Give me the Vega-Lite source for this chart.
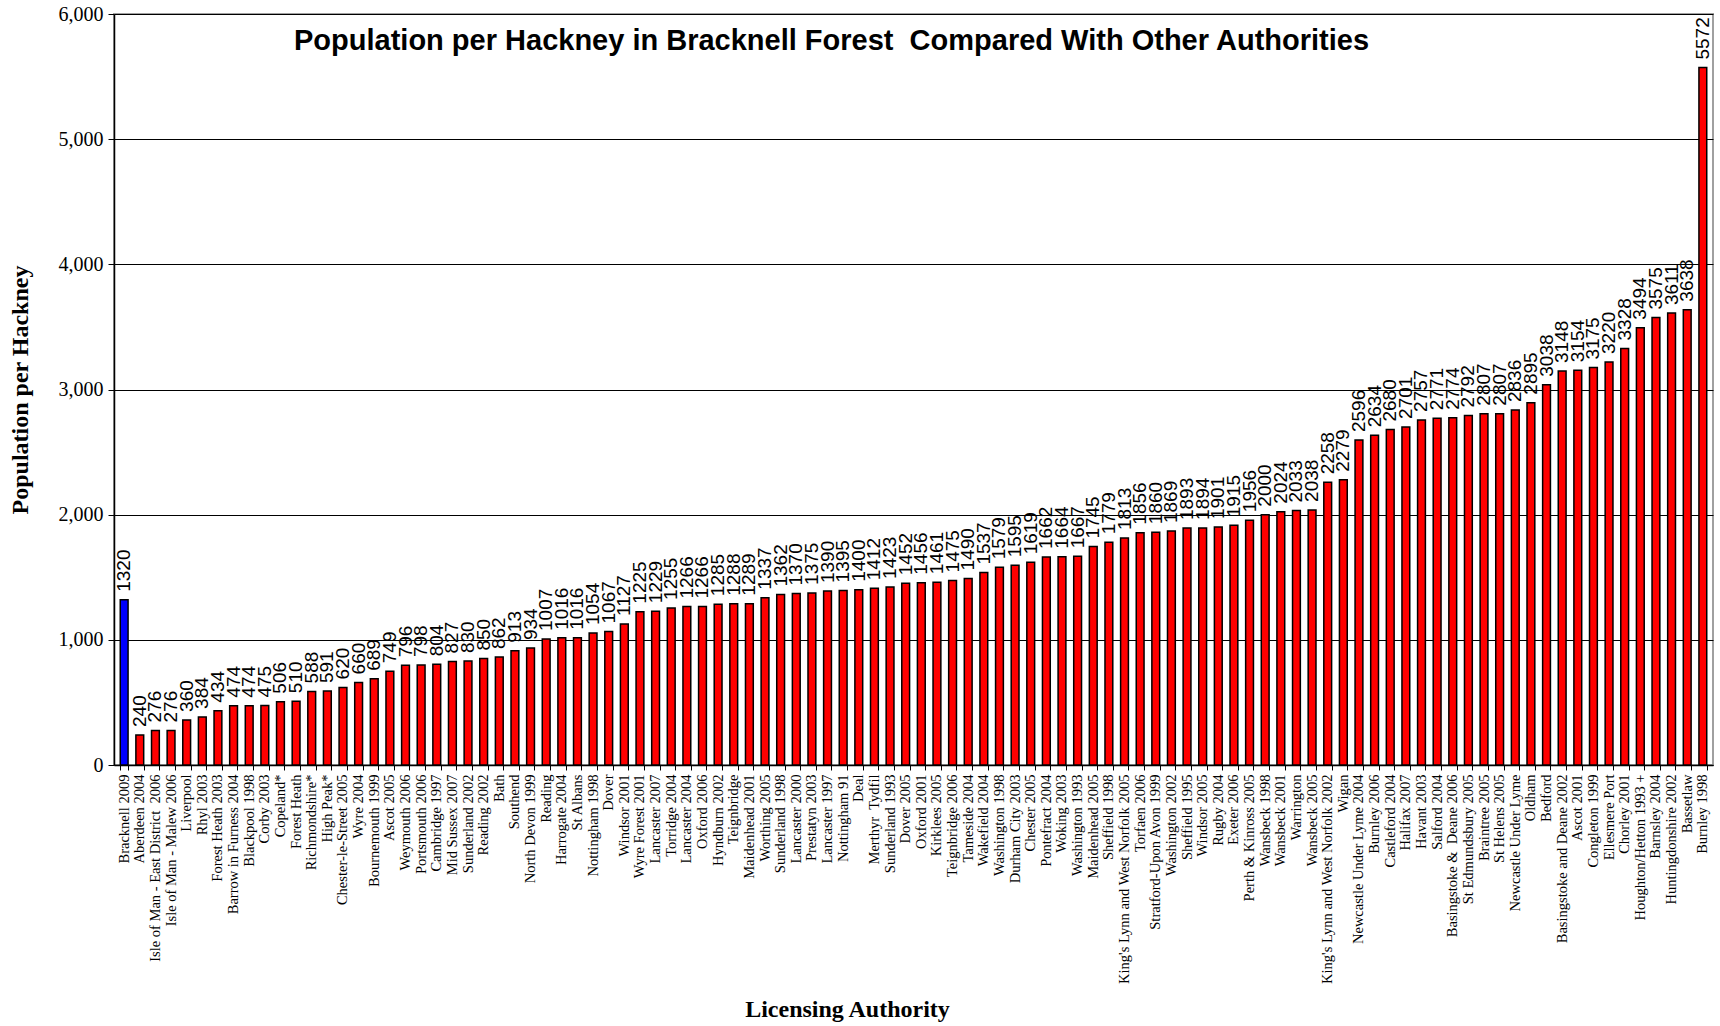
{
  "$schema": "https://vega.github.io/schema/vega-lite/v6.json",
  "autosize": "none",
  "width": 1599,
  "height": 751,
  "padding": {"left": 114, "top": 14, "right": 7, "bottom": 261},
  "background": "white",
  "config": {
    "view": {"stroke": "#a0a0a0", "strokeWidth": 2},
    "axis": {"domainColor": "black", "tickColor": "black", "labelColor": "black", "titleColor": "black"}
  },
  "title": {
    "text": "Population per Hackney in Bracknell Forest \u00a0Compared With Other Authorities",
    "font": "Liberation Sans",
    "fontSize": 29,
    "fontWeight": "bold",
    "color": "black",
    "anchor": "start",
    "frame": "group",
    "orient": "top",
    "baseline": "alphabetic",
    "offset": -40,
    "dx": 180,
    "dy": 35
  },
  "data": {
    "values": [
      {"authority": "Bracknell 2009", "pop": 1320, "group": "Bracknell"},
      {"authority": "Aberdeen 2004", "pop": 240, "group": "Other"},
      {"authority": "Isle of Man - East District \u00a02006", "pop": 276, "group": "Other"},
      {"authority": "Isle of Man - Malew 2006", "pop": 276, "group": "Other"},
      {"authority": "Liverpool", "pop": 360, "group": "Other"},
      {"authority": "Rhyl 2003", "pop": 384, "group": "Other"},
      {"authority": "Forest Heath 2003", "pop": 434, "group": "Other"},
      {"authority": "Barrow in Furness 2004", "pop": 474, "group": "Other"},
      {"authority": "Blackpool 1998", "pop": 474, "group": "Other"},
      {"authority": "Corby 2003", "pop": 475, "group": "Other"},
      {"authority": "Copeland*", "pop": 506, "group": "Other"},
      {"authority": "Forest Heath", "pop": 510, "group": "Other"},
      {"authority": "Richmondshire*", "pop": 588, "group": "Other"},
      {"authority": "High Peak*", "pop": 591, "group": "Other"},
      {"authority": "Chester-le-Street 2005", "pop": 620, "group": "Other"},
      {"authority": "Wyre 2004", "pop": 660, "group": "Other"},
      {"authority": "Bournemouth 1999", "pop": 689, "group": "Other"},
      {"authority": "Ascot 2005", "pop": 749, "group": "Other"},
      {"authority": "Weymouth 2006", "pop": 796, "group": "Other"},
      {"authority": "Portsmouth 2006", "pop": 798, "group": "Other"},
      {"authority": "Cambridge 1997", "pop": 804, "group": "Other"},
      {"authority": "Mid Sussex 2007", "pop": 827, "group": "Other"},
      {"authority": "Sunderland 2002", "pop": 830, "group": "Other"},
      {"authority": "Reading 2002", "pop": 850, "group": "Other"},
      {"authority": "Bath", "pop": 862, "group": "Other"},
      {"authority": "Southend", "pop": 913, "group": "Other"},
      {"authority": "North Devon 1999", "pop": 934, "group": "Other"},
      {"authority": "Reading", "pop": 1007, "group": "Other"},
      {"authority": "Harrogate 2004", "pop": 1016, "group": "Other"},
      {"authority": "St Albans", "pop": 1016, "group": "Other"},
      {"authority": "Nottingham 1998", "pop": 1054, "group": "Other"},
      {"authority": "Dover", "pop": 1067, "group": "Other"},
      {"authority": "Windsor 2001", "pop": 1127, "group": "Other"},
      {"authority": "Wyre Forest 2001", "pop": 1225, "group": "Other"},
      {"authority": "Lancaster 2007", "pop": 1229, "group": "Other"},
      {"authority": "Torridge 2004", "pop": 1255, "group": "Other"},
      {"authority": "Lancaster 2004", "pop": 1266, "group": "Other"},
      {"authority": "Oxford 2006", "pop": 1266, "group": "Other"},
      {"authority": "Hyndburn 2002", "pop": 1285, "group": "Other"},
      {"authority": "Teignbridge", "pop": 1288, "group": "Other"},
      {"authority": "Maidenhead 2001", "pop": 1289, "group": "Other"},
      {"authority": "Worthing 2005", "pop": 1337, "group": "Other"},
      {"authority": "Sunderland 1998", "pop": 1362, "group": "Other"},
      {"authority": "Lancaster 2000", "pop": 1370, "group": "Other"},
      {"authority": "Prestatyn 2003", "pop": 1375, "group": "Other"},
      {"authority": "Lancaster 1997", "pop": 1390, "group": "Other"},
      {"authority": "Nottingham 91", "pop": 1395, "group": "Other"},
      {"authority": "Deal", "pop": 1400, "group": "Other"},
      {"authority": "Merthyr \u00a0Tydfil", "pop": 1412, "group": "Other"},
      {"authority": "Sunderland 1993", "pop": 1423, "group": "Other"},
      {"authority": "Dover 2005", "pop": 1452, "group": "Other"},
      {"authority": "Oxford 2001", "pop": 1456, "group": "Other"},
      {"authority": "Kirklees 2005", "pop": 1461, "group": "Other"},
      {"authority": "Teignbridge 2006", "pop": 1475, "group": "Other"},
      {"authority": "Tameside 2004", "pop": 1490, "group": "Other"},
      {"authority": "Wakefield 2004", "pop": 1537, "group": "Other"},
      {"authority": "Washington 1998", "pop": 1579, "group": "Other"},
      {"authority": "Durham City 2003", "pop": 1595, "group": "Other"},
      {"authority": "Chester 2005", "pop": 1619, "group": "Other"},
      {"authority": "Pontefract 2004", "pop": 1662, "group": "Other"},
      {"authority": "Woking 2003", "pop": 1664, "group": "Other"},
      {"authority": "Washington 1993", "pop": 1667, "group": "Other"},
      {"authority": "Maidenhead 2005", "pop": 1745, "group": "Other"},
      {"authority": "Sheffield 1998", "pop": 1779, "group": "Other"},
      {"authority": "King's Lynn and West Norfolk 2005", "pop": 1813, "group": "Other"},
      {"authority": "Torfaen 2006", "pop": 1856, "group": "Other"},
      {"authority": "Stratford-Upon Avon 1999", "pop": 1860, "group": "Other"},
      {"authority": "Washington 2002", "pop": 1869, "group": "Other"},
      {"authority": "Sheffield 1995", "pop": 1893, "group": "Other"},
      {"authority": "Windsor 2005", "pop": 1894, "group": "Other"},
      {"authority": "Rugby 2004", "pop": 1901, "group": "Other"},
      {"authority": "Exeter 2006", "pop": 1915, "group": "Other"},
      {"authority": "Perth & Kinross 2005", "pop": 1956, "group": "Other"},
      {"authority": "Wansbeck 1998", "pop": 2000, "group": "Other"},
      {"authority": "Wansbeck 2001", "pop": 2024, "group": "Other"},
      {"authority": "Warrington", "pop": 2033, "group": "Other"},
      {"authority": "Wansbeck 2005", "pop": 2038, "group": "Other"},
      {"authority": "King's Lynn and West Norfolk 2002", "pop": 2258, "group": "Other"},
      {"authority": "Wigan", "pop": 2279, "group": "Other"},
      {"authority": "Newcastle Under Lyme 2004", "pop": 2596, "group": "Other"},
      {"authority": "Burnley 2006", "pop": 2634, "group": "Other"},
      {"authority": "Castleford 2004", "pop": 2680, "group": "Other"},
      {"authority": "Halifax 2007", "pop": 2701, "group": "Other"},
      {"authority": "Havant 2003", "pop": 2757, "group": "Other"},
      {"authority": "Salford 2004", "pop": 2771, "group": "Other"},
      {"authority": "Basingstoke & \u00a0Deane 2006", "pop": 2774, "group": "Other"},
      {"authority": "St Edmundsbury 2005", "pop": 2792, "group": "Other"},
      {"authority": "Braintree 2005", "pop": 2807, "group": "Other"},
      {"authority": "St Helens 2005", "pop": 2807, "group": "Other"},
      {"authority": "Newcastle Under Lyme", "pop": 2836, "group": "Other"},
      {"authority": "Oldham", "pop": 2895, "group": "Other"},
      {"authority": "Bedford", "pop": 3038, "group": "Other"},
      {"authority": "Basingstoke and Deane 2002", "pop": 3148, "group": "Other"},
      {"authority": "Ascot 2001", "pop": 3154, "group": "Other"},
      {"authority": "Congleton 1999", "pop": 3175, "group": "Other"},
      {"authority": "Ellesmere Port", "pop": 3220, "group": "Other"},
      {"authority": "Chorley 2001", "pop": 3328, "group": "Other"},
      {"authority": "Houghton/Hetton 1993 +", "pop": 3494, "group": "Other"},
      {"authority": "Barnsley 2004", "pop": 3575, "group": "Other"},
      {"authority": "Huntingdonshire 2002", "pop": 3611, "group": "Other"},
      {"authority": "Bassetlaw", "pop": 3638, "group": "Other"},
      {"authority": "Burnley 1998", "pop": 5572, "group": "Other"}
    ]
  },
  "encoding": {
    "x": {
      "field": "authority",
      "type": "nominal",
      "sort": null,
      "scale": {"paddingInner": 0.5, "paddingOuter": 0.4},
      "axis": {
        "title": "Licensing Authority",
        "titleFont": "Liberation Serif",
        "titleFontSize": 24,
        "titleFontWeight": "bold",
        "titleX": 733,
        "titleY": 232,
        "titleAlign": "center",
        "titleBaseline": "top",
        "labelFont": "Liberation Serif",
        "labelFontSize": 14.5,
        "labelAngle": -90,
        "labelLimit": 400,
        "labelPadding": 4,
        "tickBand": "extent",
        "tickSize": 5,
        "domainWidth": 1.5,
        "grid": false
      }
    },
    "y": {
      "field": "pop",
      "type": "quantitative",
      "scale": {"domain": [0, 6000], "nice": false},
      "axis": {
        "title": "Population per Hackney",
        "titleFont": "Liberation Serif",
        "titleFontSize": 24,
        "titleFontWeight": "bold",
        "titlePadding": 26,
        "labelFont": "Liberation Serif",
        "labelFontSize": 20,
        "labelPadding": 5,
        "values": [0, 1000, 2000, 3000, 4000, 5000, 6000],
        "format": ",d",
        "tickSize": 6,
        "domainWidth": 1.5,
        "grid": true,
        "gridColor": "black",
        "gridOpacity": 1,
        "gridWidth": 1
      }
    }
  },
  "layer": [
    {
      "mark": {"type": "bar", "stroke": "black", "strokeWidth": 1.5},
      "encoding": {
        "color": {
          "field": "group",
          "type": "nominal",
          "scale": {"domain": ["Bracknell", "Other"], "range": ["#0000FF", "#FF0000"]},
          "legend": null
        }
      }
    },
    {
      "mark": {
        "type": "text",
        "angle": -90,
        "align": "left",
        "baseline": "middle",
        "dx": 8,
        "font": "Liberation Sans",
        "fontSize": 19,
        "color": "black"
      },
      "encoding": {
        "text": {"field": "pop", "type": "quantitative", "format": "d"}
      }
    }
  ]
}
